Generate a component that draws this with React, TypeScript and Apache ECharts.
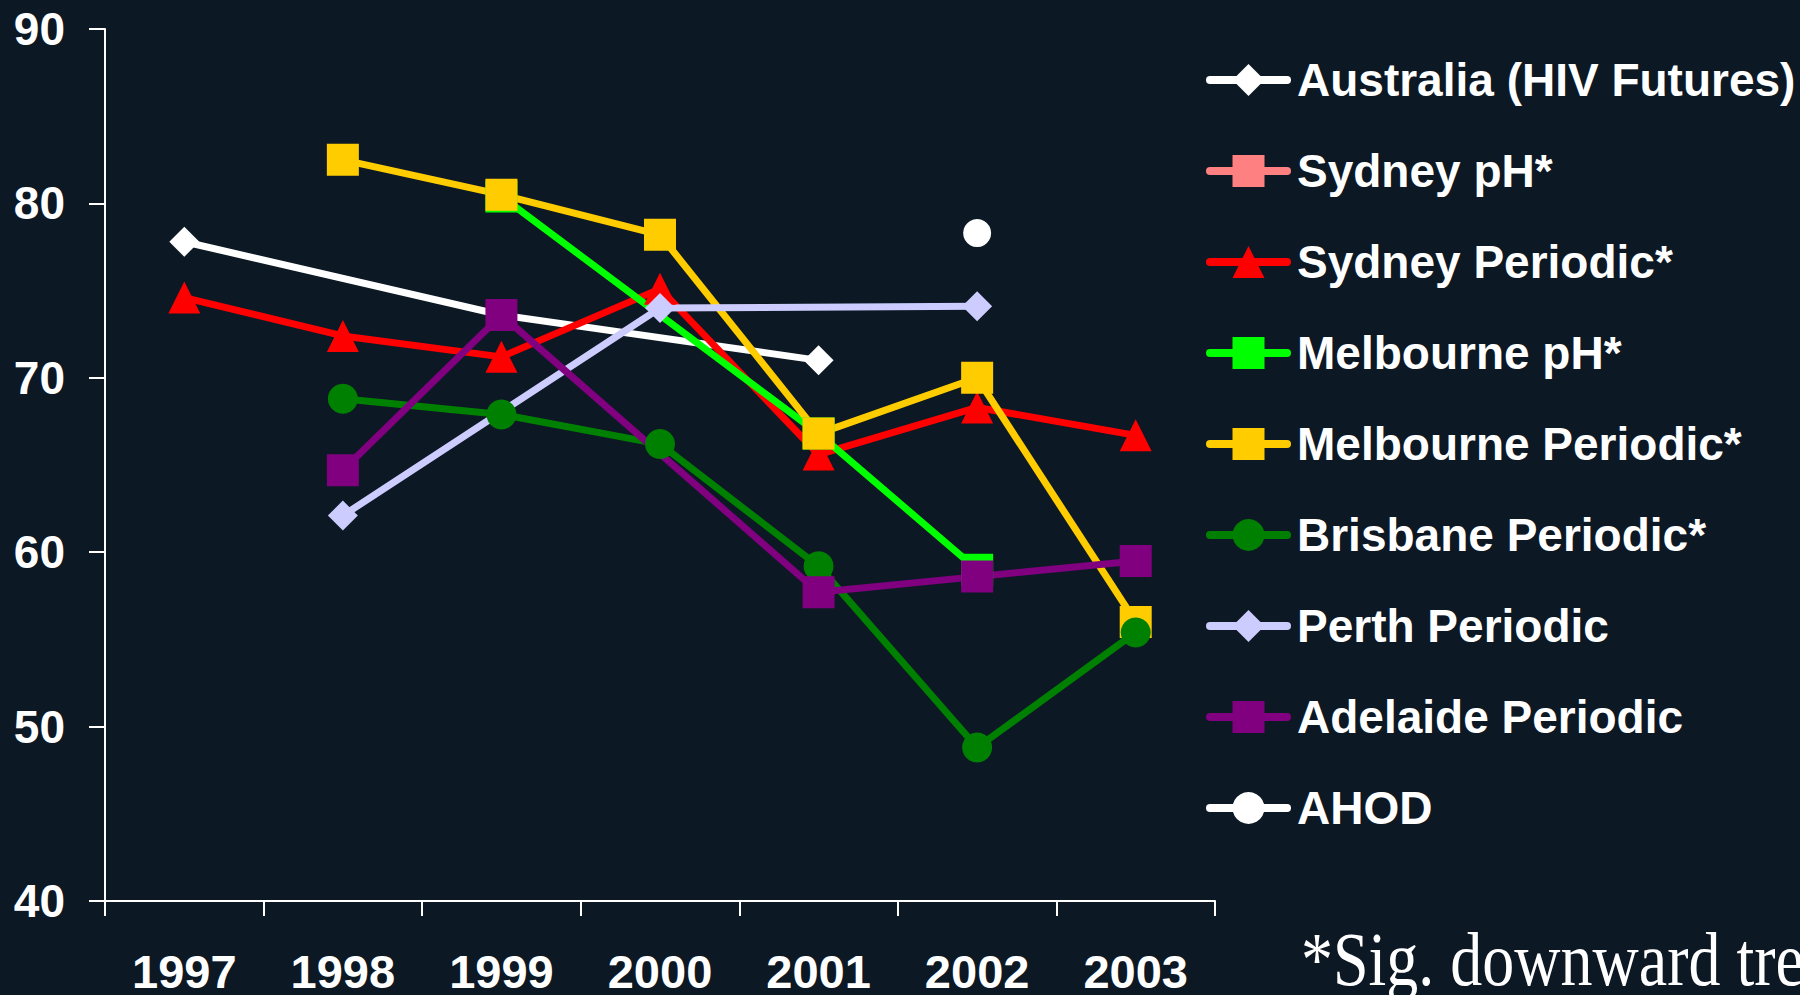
import React, { useEffect, useRef } from "react";
import * as echarts from "echarts";

const years = ["1997", "1998", "1999", "2000", "2001", "2002", "2003"];
const australia = [77.8, null, 73.6, null, 71.0, null, null];
const sydneyPh: (number | null)[] = [null, null, null, null, null, null, null];
const sydneyPeriodic = [74.6, 72.4, 71.2, 75.1, 65.6, 68.3, 66.7];
const melbournePh = [null, null, 80.4, null, 66.8, 59.0, null];
const melbournePeriodic = [null, 82.5, 80.5, 78.2, 66.8, 70.0, 56.0];
const brisbanePeriodic = [null, 68.8, 67.9, 66.2, 59.2, 48.8, 55.4];
const perthPeriodic = [null, 62.1, null, 74.0, null, 74.1, null];
const adelaidePeriodic = [null, 64.7, 73.6, null, 57.7, 58.6, 59.5];
const ahod = [null, null, null, null, null, 78.3, null];
const yTicks = { min: 40, max: 90, interval: 10 };
const footnote = "*Sig. downward trend";

const FONT = "'Liberation Sans', Arial, sans-serif";

function mk(name: string, data: (number | null)[], color: string, symbol: string, size: number) {
  return {
    name,
    type: "line",
    data,
    connectNulls: true,
    symbol,
    symbolSize: size,
    showSymbol: true,
    itemStyle: { color, opacity: 1 },
    lineStyle: { color, width: 7 },
    emphasis: { disabled: true },
  };
}

export default function App() {
  const ref = useRef<HTMLDivElement>(null);
  useEffect(() => {
    document.body.style.margin = "0";
    const chart = echarts.init(ref.current!, null, { renderer: "svg" });
    chart.setOption({
      animation: false,
      backgroundColor: "#0c1824",
      grid: { left: 105, right: 585, top: 29, bottom: 89 },
      xAxis: {
        type: "category",
        data: years,
        boundaryGap: true,
        axisLine: { onZero: false, lineStyle: { color: "#ffffff", width: 2 } },
        axisTick: { show: true, length: 15, inside: false, lineStyle: { color: "#ffffff", width: 2 } },
        axisLabel: { color: "#ffffff", fontSize: 47, fontWeight: "bold", fontFamily: FONT, margin: 47 },
        splitLine: { show: false },
      },
      yAxis: {
        type: "value",
        min: yTicks.min,
        max: yTicks.max,
        interval: yTicks.interval,
        axisLine: { show: true, lineStyle: { color: "#ffffff", width: 2 } },
        axisTick: { show: true, length: 16, lineStyle: { color: "#ffffff", width: 2 } },
        axisLabel: { color: "#ffffff", fontSize: 46, fontWeight: "bold", fontFamily: FONT, margin: 40 },
        splitLine: { show: false },
      },
      legend: {
        orient: "vertical",
        left: 1201,
        top: 52,
        itemWidth: 77,
        itemHeight: 40,
        itemGap: 45,
        selectedMode: false,
        lineStyle: { width: 8, cap: "round" },
        textStyle: { color: "#ffffff", fontSize: 46, fontWeight: "bold", fontFamily: FONT, padding: [0, 0, 0, 5] },
        data: [
          "Australia (HIV Futures)",
          "Sydney pH*",
          "Sydney Periodic*",
          "Melbourne pH*",
          "Melbourne Periodic*",
          "Brisbane Periodic*",
          "Perth Periodic",
          "Adelaide Periodic",
          "AHOD",
        ],
      },
      graphic: [
        {
          type: "text",
          x: 1301,
          y: 922,
          scaleY: 1.18,
          style: {
            text: footnote,
            x: 0,
            y: 0,
            verticalAlign: "top",
            fill: "#ffffff",
            font: "64px 'Liberation Serif', 'Times New Roman', serif",
          },
        },
      ],
      series: [
        mk("Australia (HIV Futures)", australia, "#ffffff", "diamond", 30),
        mk("Sydney pH*", sydneyPh, "#ff8080", "rect", 14),
        mk("Sydney Periodic*", sydneyPeriodic, "#ff0000", "triangle", 32),
        mk("Melbourne pH*", melbournePh, "#00ff00", "rect", 32),
        mk("Melbourne Periodic*", melbournePeriodic, "#ffcc00", "rect", 32),
        mk("Brisbane Periodic*", brisbanePeriodic, "#008000", "circle", 30),
        mk("Perth Periodic", perthPeriodic, "#ccccff", "diamond", 30),
        mk("Adelaide Periodic", adelaidePeriodic, "#800080", "rect", 32),
        mk("AHOD", ahod, "#ffffff", "circle", 28),
      ],
    });
    return () => chart.dispose();
  }, []);
  return <div ref={ref} style={{ width: 1800, height: 995 }} />;
}
